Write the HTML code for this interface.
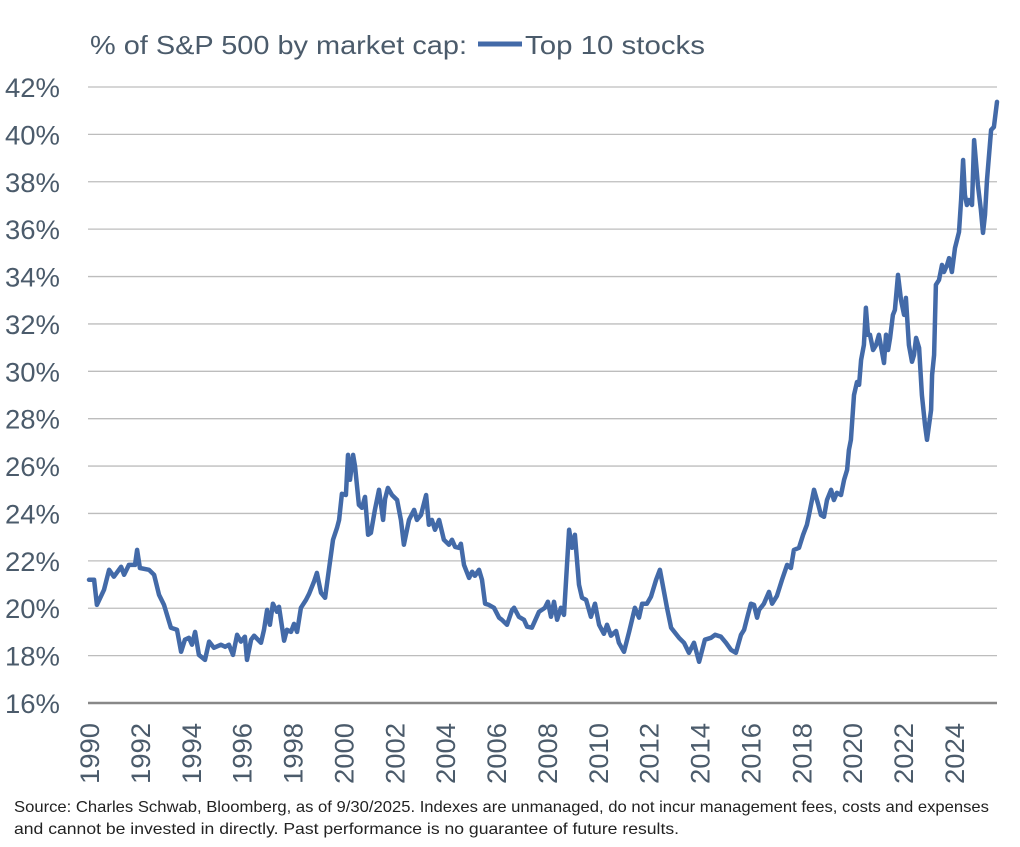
<!DOCTYPE html>
<html><head><meta charset="utf-8"><style>
html,body{margin:0;padding:0;background:#fff;}
svg{display:block;font-family:"Liberation Sans",sans-serif;}
</style></head><body>
<svg id="chart" width="1020" height="847" viewBox="0 0 1020 847">
<g id="title">
<text x="90" y="54" font-size="26" fill="#4b5b6b" textLength="377" lengthAdjust="spacingAndGlyphs">% of S&amp;P 500 by market cap:</text>
<line x1="478" y1="44" x2="522" y2="44" stroke="#436aa8" stroke-width="5"/>
<text x="525" y="54" font-size="26" fill="#4b5b6b" textLength="180" lengthAdjust="spacingAndGlyphs">Top 10 stocks</text>
</g>
<g id="grid"></g>
<g id="ylabels"></g>
<g id="xlabels"></g>
<path id="series" fill="none" stroke="#436aa8" stroke-width="4.5" stroke-linejoin="round" stroke-linecap="round"/>
<line x1="88" y1="703" x2="997" y2="703" stroke="#888" stroke-width="2.5"/>
<text x="14" y="812" font-size="16" fill="#222" textLength="975" lengthAdjust="spacingAndGlyphs">Source: Charles Schwab, Bloomberg, as of 9/30/2025.  Indexes are unmanaged, do not incur management fees, costs and expenses</text>
<text x="14" y="834" font-size="16" fill="#222" textLength="665" lengthAdjust="spacingAndGlyphs">and cannot be invested in directly. Past performance is no guarantee of future results.</text>
</svg>
<script>
const yTicks = [16,18,20,22,24,26,28,30,32,34,36,38,40,42];
const xTicks = [1990,1992,1994,1996,1998,2000,2002,2004,2006,2008,2010,2012,2014,2016,2018,2020,2022,2024];
const years = [1990.00,1990.20,1990.31,1990.59,1990.79,1990.98,1991.26,1991.38,1991.57,1991.81,1991.89,1992.00,1992.36,1992.56,1992.75,1992.95,1993.22,1993.46,1993.62,1993.77,1993.93,1994.05,1994.17,1994.32,1994.56,1994.72,1994.91,1995.19,1995.35,1995.50,1995.66,1995.82,1995.97,1996.13,1996.21,1996.37,1996.49,1996.76,1996.88,1997.00,1997.11,1997.23,1997.39,1997.47,1997.67,1997.78,1997.94,1998.06,1998.18,1998.33,1998.53,1998.65,1998.84,1998.96,1999.12,1999.28,1999.43,1999.59,1999.75,1999.83,1999.94,2000.10,2000.18,2000.26,2000.38,2000.46,2000.61,2000.73,2000.85,2000.97,2001.08,2001.24,2001.40,2001.56,2001.64,2001.75,2001.91,2002.11,2002.26,2002.38,2002.58,2002.78,2002.89,2003.05,2003.25,2003.36,2003.48,2003.60,2003.76,2003.95,2004.15,2004.27,2004.39,2004.54,2004.62,2004.74,2004.94,2005.06,2005.17,2005.33,2005.45,2005.57,2005.72,2005.92,2006.12,2006.23,2006.43,2006.63,2006.71,2006.90,2007.10,2007.22,2007.41,2007.69,2007.92,2008.04,2008.16,2008.28,2008.40,2008.55,2008.67,2008.87,2008.99,2009.10,2009.26,2009.38,2009.54,2009.73,2009.89,2010.05,2010.24,2010.36,2010.52,2010.72,2010.83,2011.03,2011.23,2011.46,2011.62,2011.74,2011.93,2012.09,2012.29,2012.44,2012.72,2012.88,2013.19,2013.39,2013.58,2013.78,2013.98,2014.21,2014.45,2014.61,2014.84,2015.04,2015.24,2015.43,2015.63,2015.75,2015.90,2016.02,2016.14,2016.26,2016.34,2016.53,2016.73,2016.85,2017.04,2017.24,2017.44,2017.59,2017.71,2017.91,2018.07,2018.22,2018.30,2018.50,2018.66,2018.77,2018.89,2019.01,2019.17,2019.28,2019.40,2019.56,2019.68,2019.80,2019.87,2019.95,2020.07,2020.19,2020.27,2020.35,2020.46,2020.54,2020.62,2020.70,2020.82,2020.94,2021.05,2021.17,2021.25,2021.33,2021.41,2021.49,2021.60,2021.68,2021.80,2021.92,2022.04,2022.11,2022.23,2022.35,2022.43,2022.51,2022.63,2022.74,2022.86,2022.94,2023.10,2023.14,2023.22,2023.29,2023.41,2023.53,2023.61,2023.73,2023.81,2023.92,2024.04,2024.20,2024.28,2024.36,2024.43,2024.51,2024.59,2024.71,2024.79,2024.94,2025.06,2025.14,2025.22,2025.30,2025.46,2025.57,2025.69];
const values = [21.2,21.2,20.14,20.78,21.62,21.33,21.75,21.41,21.83,21.83,22.46,21.70,21.62,21.41,20.57,20.14,19.18,19.09,18.16,18.67,18.75,18.46,19.0,18.03,17.82,18.59,18.33,18.46,18.37,18.46,18.03,18.88,18.59,18.80,17.82,18.67,18.84,18.54,19.09,19.93,19.30,20.19,19.85,20.06,18.63,19.09,19.0,19.34,19.0,20.02,20.35,20.61,21.11,21.49,20.65,20.44,21.62,22.89,23.39,23.73,24.83,24.78,26.47,25.42,26.47,25.97,24.36,24.24,24.70,23.10,23.18,24.15,25.0,23.73,24.62,25.08,24.78,24.57,23.73,22.68,23.73,24.15,23.73,23.94,24.78,23.52,23.73,23.31,23.73,22.89,22.68,22.89,22.59,22.55,22.72,21.83,21.28,21.54,21.37,21.62,21.20,20.19,20.14,20.02,19.60,19.51,19.30,19.93,20.02,19.64,19.51,19.22,19.18,19.85,20.02,20.27,19.64,20.27,19.51,20.02,19.72,23.31,22.55,23.10,20.99,20.44,20.35,19.64,20.19,19.30,18.92,19.30,18.84,19.04,18.54,18.16,19.0,20.02,19.60,20.19,20.19,20.49,21.20,21.62,20.02,19.18,18.75,18.54,18.12,18.54,17.74,18.67,18.75,18.88,18.80,18.54,18.24,18.12,18.88,19.09,19.72,20.19,20.14,19.60,19.93,20.19,20.69,20.19,20.52,21.20,21.83,21.70,22.46,22.55,23.10,23.52,23.94,25.0,24.40,23.94,23.86,24.57,25.0,24.57,24.87,24.78,25.42,25.84,26.68,27.11,29.0,29.55,29.43,30.48,31.11,32.68,31.54,31.54,30.90,31.11,31.54,30.82,30.35,31.54,30.90,31.41,32.38,32.59,34.07,33.01,32.38,33.10,31.11,30.40,30.69,31.41,30.99,29.0,27.74,27.11,28.37,29.85,30.69,33.65,33.86,34.49,34.19,34.49,34.78,34.19,35.21,35.88,37.23,38.92,37.44,37.02,37.23,37.02,39.76,37.86,36.81,35.84,36.60,38.08,40.19,40.31,41.37];

const NS = 'http://www.w3.org/2000/svg';
function yScale(v){ return 703 - (v - 16) * (616 / 26); }
function xScale(yr){ return 89 + (yr - 1990) * 25.44; }

const grid = document.getElementById('grid');
const yl = document.getElementById('ylabels');
yTicks.forEach(t => {
  const y = yScale(t);
  if (t !== 16) {
    const l = document.createElementNS(NS, 'line');
    
    
    l.setAttribute('x1', 88); l.setAttribute('x2', 997);
    l.setAttribute('y1', y); l.setAttribute('y2', y);
    l.setAttribute('stroke', '#bdbdbd'); l.setAttribute('stroke-width', '1.3');
    grid.appendChild(l);
  }
  const tx = document.createElementNS(NS, 'text');
  
  
  tx.setAttribute('x', 5); tx.setAttribute('y', y + 10);
  tx.setAttribute('font-size', '27'); tx.setAttribute('fill', '#4b5b6b');
  tx.setAttribute('textLength', '55'); tx.setAttribute('lengthAdjust', 'spacingAndGlyphs');
  tx.textContent = t + '%';
  yl.appendChild(tx);
});

const xl = document.getElementById('xlabels');
xTicks.forEach(t => {
  const x = xScale(t);
  const tx = document.createElementNS(NS, 'text');
  
  
  tx.setAttribute('transform', 'translate(' + (x + 10) + ',784) rotate(-90)');
  tx.setAttribute('font-size', '27'); tx.setAttribute('fill', '#4b5b6b');
  tx.setAttribute('textLength', '61'); tx.setAttribute('lengthAdjust', 'spacingAndGlyphs');
  tx.textContent = String(t);
  xl.appendChild(tx);
});

let d = '';
years.forEach((yr, i) => {
  d += (i ? 'L' : 'M') + xScale(yr).toFixed(1) + ',' + yScale(values[i]).toFixed(1);
});
document.getElementById('series').setAttribute('d', d);
</script>
</body></html>
